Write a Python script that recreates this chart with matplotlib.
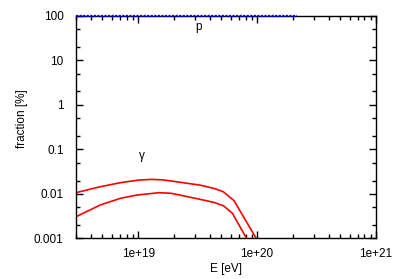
import matplotlib
matplotlib.use("Agg")
import matplotlib.pyplot as plt
from matplotlib.ticker import LogLocator, FixedLocator, NullFormatter

plt.rcParams['font.family'] = ['Liberation Sans', 'DejaVu Sans']

# proton fraction
p_E = [3.0e18, 2.17e20]
p_frac = [100.0, 100.0]

# photon curves (upper and lower)
g1_E = [3.0e18, 4.8e18, 7.1e18, 1.0e19, 1.3e19, 1.6e19, 1.9e19, 3.3e19, 4.3e19, 5.2e19, 6.4e19, 1.12e20]
g1_frac = [0.0107, 0.0145, 0.0179, 0.0204, 0.0212, 0.0207, 0.0195, 0.0158, 0.0134, 0.0112, 0.00705, 0.000555]

g2_E = [3.0e18, 4.8e18, 7.1e18, 9.8e18, 1.5e19, 1.9e19, 3.3e19, 4.3e19, 5.2e19, 6.2e19, 1.0e20]
g2_frac = [0.00308, 0.00565, 0.00798, 0.00946, 0.01067, 0.01033, 0.00759, 0.00649, 0.00545, 0.00368, 0.00038]

x_ticks = [1e19, 1e20, 1e21]
x_tick_labels = ['1e+19', '1e+20', '1e+21']
y_ticks = [0.001, 0.01, 0.1, 1, 10, 100]
y_tick_labels = ['0.001', '0.01', '0.1', '1', '10', '100']

fig = plt.figure(figsize=(3.99, 2.79), dpi=100)
ax = fig.add_axes([0.1905, 0.1452, 0.7519, 0.7985])

ax.plot(p_E, p_frac, color='blue', lw=1.6, ls=(0, (1, 0.6)), clip_on=False, zorder=3)
ax.plot(g1_E, g1_frac, color='red', lw=1.2)
ax.plot(g2_E, g2_frac, color='red', lw=1.2)

ax.set_xscale('log')
ax.set_yscale('log')
ax.set_xlim(3.0e18, 1e21)
ax.set_ylim(0.001, 100)

ax.xaxis.set_major_locator(FixedLocator(x_ticks))
ax.set_xticklabels(x_tick_labels)
ax.xaxis.set_minor_locator(LogLocator(base=10, subs=[2, 3, 4, 5, 6, 7, 8, 9]))
ax.xaxis.set_minor_formatter(NullFormatter())
ax.yaxis.set_major_locator(FixedLocator(y_ticks))
ax.set_yticklabels(y_tick_labels)
ax.yaxis.set_minor_locator(LogLocator(base=10, subs=[2, 5]))
ax.yaxis.set_minor_formatter(NullFormatter())

ax.tick_params(which='both', direction='in', top=True, right=True, labelsize=8.5)
ax.tick_params(axis='x', which='both', pad=7)
ax.tick_params(axis='y', which='both', pad=9)
ax.tick_params(which='major', length=5, width=1)
ax.tick_params(which='minor', length=3, width=1)
for s in ax.spines.values():
    s.set_linewidth(1)

ax.text(3.2e19, 55, 'p', fontsize=8.5, ha='center', va='center')
ax.text(1.07e19, 0.071, 'γ', fontsize=8.5, ha='center', va='center')

ax.set_xlabel('E [eV]', fontsize=8.5, labelpad=2)
fig.text(21.5 / 399, 1 - 119 / 279, 'fraction [%]', fontsize=8.5,
         rotation=90, ha='center', va='center')

fig.savefig('out.png', dpi=100)
